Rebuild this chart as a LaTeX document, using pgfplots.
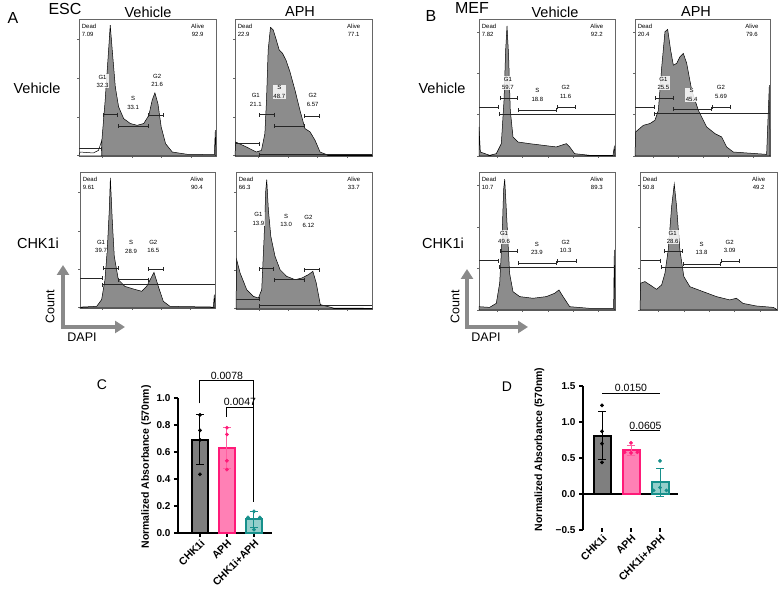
\documentclass[border=0pt]{standalone}
\usepackage{fontspec}
\setmainfont{Liberation Sans}
\usepackage{pgfplots}
\pgfplotsset{compat=1.18}
\usetikzlibrary{arrows.meta}
\definecolor{histgray}{HTML}{8C8C8C}
\definecolor{arrowgray}{HTML}{8A8A8A}
\definecolor{cGray}{HTML}{7F7F7F}
\definecolor{cPinkFill}{HTML}{FF80B5}
\definecolor{cPink}{HTML}{FF1A78}
\definecolor{cTealFill}{HTML}{94CFCB}
\definecolor{cTeal}{HTML}{16908B}

\pgfplotsset{
  hist/.style={scale only axis, xmin=0, xmax=100, ymin=0, ymax=100,
    axis line style={black!60, line width=0.5pt},
    tick style={black!60, line width=0.4pt}, tick align=outside, tick pos=left,
    major tick length=2pt, xticklabels={}, yticklabels={}, clip=false},
  hesc/.style={hist, xtick={16.7,38.7,60.3,81.6}, ytick={0.5,28.5,56.6,85}},
  hmef/.style={hist, xtick={13.2,31.9,50.7,69.1,87.5}, ytick={0,30.5,60.2,90.7}},
  histfill/.style={fill=histgray, draw=black, line width=0.5pt},
  barax/.style={scale only axis, axis lines*=left, clip=false,
    axis line style={line width=1.4pt},
    tick style={line width=1.2pt, black}, tick align=outside, major tick length=4pt,
    xtick={0,1,2}, xticklabels={CHK1i,APH,CHK1i+APH},
    x tick label style={font=\bfseries\fontsize{10.5}{11}\selectfont, rotate=45, anchor=north east, inner sep=1pt},
    y tick label style={font=\bfseries\fontsize{10}{11}\selectfont},
    ylabel style={font=\bfseries\fontsize{10.5}{11}\selectfont}},
}
\tikzset{
  gate/.style={black!85, line width=0.6pt, {Bar[width=4pt]}-{Bar[width=4pt]}},
  gateR/.style={black!85, line width=0.6pt, -{Bar[width=4pt]}},
  gateL/.style={black!85, line width=0.6pt, {Bar[width=4pt]}-},
  lab/.style={font=\fontsize{6}{8.5}\selectfont, align=center, inner sep=0.6pt},
  labw/.style={lab, fill=white, fill opacity=0.85, text opacity=1},
  big/.style={font=\fontsize{14.5}{16}\selectfont},
  bigarrow/.style={arrowgray, line width=4pt, -{Triangle[length=10pt,width=12pt]}},
}

\begin{document}
\begin{tikzpicture}
\useasboundingbox (0pt,0pt) rectangle (780pt,589pt);

% ---------------- ESC, Vehicle / Vehicle
\begin{axis}[hesc, at={(79pt,433pt)}, width=137pt, height=137pt]
\addplot[fill=white, draw=black, line width=0.5pt] coordinates {(0,0) (0.7,2.9) (10.5,2.2) (14.2,4.1) (16.7,11.5) (16.7,0)} \closedcycle;
\addplot[histfill] coordinates {(16.7,0) (16.7,11.5) (19.1,40.7) (21.6,77.3) (22.8,95.6) (24.5,74.4) (26.5,50.5) (28.9,35.9) (32.6,27.3) (37.5,23.7) (42.4,22.4) (47.3,23.7) (51.0,29.8) (53.4,40.7) (55.4,46.1) (57.6,38.3) (60.0,21.2) (63.2,9.0) (68.1,2.9) (79.2,1.2) (98.8,1.0) (99.5,18.8) (100,0)} \closedcycle;
\draw[gateR] (axis cs:0,5.4) -- (axis cs:16.7,5.4);
\draw[gate] (axis cs:17.4,30.2) -- (axis cs:28.4,30.2);
\draw[gate] (axis cs:28.4,22) -- (axis cs:50.5,22);
\draw[gate] (axis cs:50.5,29.8) -- (axis cs:61.5,29.8);
\node[labw] at (axis cs:17.2,54.6) {G1\\32.3};
\node[lab] at (axis cs:39.5,38.8) {S\\33.1};
\node[lab] at (axis cs:57.1,55.3) {G2\\21.6};
\node[lab, anchor=north west, align=left] at (axis cs:1.5,97) {Dead\\7.09};
\node[lab, anchor=north east] at (axis cs:92,97) {Alive\\92.9};
\end{axis}

% ---------------- ESC, APH / Vehicle
\begin{axis}[hesc, at={(235pt,433pt)}, width=137pt, height=137pt]
\addplot[histfill] coordinates {(0,0) (0.5,10.2) (8.3,6.6) (15.6,2.9) (19.3,4.1) (21.8,16.3) (23,40.7) (24.2,77.3) (25.9,93.9) (27.9,92) (29.8,85.9) (32.3,77.3) (34.7,74.9) (37.2,70) (40.1,61.5) (43.8,48) (47.4,33.4) (51.1,20) (54.8,17.6) (58.4,11.5) (62.1,2.9) (68.2,0.5) (100,0.5)} \closedcycle;
\draw[gateR] (axis cs:0,9) -- (axis cs:17.6,9);
\draw[gateL] (axis cs:17.6,1) -- (axis cs:100,1);
\draw[gate] (axis cs:17.6,30.2) -- (axis cs:28.6,30.2);
\draw[gate] (axis cs:28.6,22) -- (axis cs:50.6,22);
\draw[gate] (axis cs:50.6,29.3) -- (axis cs:61.6,29.3);
\node[lab] at (axis cs:15.2,40.9) {G1\\21.1};
\node[labw] at (axis cs:32.3,46.9) {S\\48.7};
\node[lab] at (axis cs:56.7,40.9) {G2\\6.57};
\node[lab, anchor=north west, align=left] at (axis cs:1.5,97) {Dead\\22.9};
\node[lab, anchor=north east] at (axis cs:92,97) {Alive\\77.1};
\end{axis}

% ---------------- ESC, Vehicle / CHK1i
\begin{axis}[hesc, at={(80pt,281pt)}, width=135pt, height=136pt]
\addplot[histfill] coordinates {(0,0) (1.2,0.7) (12.3,1.2) (16,6.1) (18.5,20.8) (20.2,42.9) (21.7,72.3) (22.5,95.6) (24,62.5) (25.4,38) (28.4,20.8) (33.3,15.9) (39.5,14) (45.7,12.3) (49.4,15.9) (54.8,26.2) (58,15.9) (61.7,4.9) (66.7,1.2) (98.8,0.7) (99.5,9.8) (100,0)} \closedcycle;
\draw[gateR] (axis cs:0,22) -- (axis cs:16.5,22);
\draw[gateL] (axis cs:16.5,17.2) -- (axis cs:100,17.2);
\draw[gate] (axis cs:17.3,29.2) -- (axis cs:28.4,29.2);
\draw[gate] (axis cs:28.4,20.8) -- (axis cs:50.6,20.8);
\draw[gate] (axis cs:50.6,28.7) -- (axis cs:61.7,28.7);
\node[labw] at (axis cs:15.6,45.4) {G1\\39.7};
\node[lab] at (axis cs:37.8,44.8) {S\\28.9};
\node[lab] at (axis cs:54.3,45.4) {G2\\16.5};
\node[lab, anchor=north west, align=left] at (axis cs:1.5,97) {Dead\\9.61};
\node[lab, anchor=north east] at (axis cs:92,97) {Alive\\90.4};
\end{axis}

% ---------------- ESC, APH / CHK1i
\begin{axis}[hesc, at={(236pt,280pt)}, width=136pt, height=137pt]
\addplot[histfill] coordinates {(0,0) (0.5,36) (3,26.3) (7.9,14.1) (12.8,9.2) (16.5,8) (18.9,14.1) (20.6,50.6) (21.9,87) (22.6,94.4) (23.8,72.5) (25.6,53) (28.7,38.4) (32.4,28.7) (37.3,23.8) (43.5,21.4) (48.4,22.6) (53.3,25.1) (56.5,27.5) (59,19) (62,3.2) (71.7,0.7) (100,0.5)} \closedcycle;
\draw[gateR] (axis cs:0,7.3) -- (axis cs:17.2,7.3);
\draw[gateL] (axis cs:17.2,2.4) -- (axis cs:100,2.4);
\draw[gate] (axis cs:17.2,29.4) -- (axis cs:28,29.4);
\draw[gate] (axis cs:28,21.4) -- (axis cs:50.1,21.4);
\draw[gate] (axis cs:50.1,28.7) -- (axis cs:61.4,28.7);
\node[labw] at (axis cs:16.5,65.9) {G1\\13.9};
\node[lab] at (axis cs:36.9,64.6) {S\\13.0};
\node[lab] at (axis cs:53.3,63.9) {G2\\6.12};
\node[lab, anchor=north west, align=left] at (axis cs:1.5,97) {Dead\\66.3};
\node[lab, anchor=north east] at (axis cs:92,97) {Alive\\33.7};
\end{axis}

% ---------------- MEF, Vehicle / Vehicle
\begin{axis}[hmef, at={(479pt,433pt)}, width=136pt, height=137pt]
\addplot[histfill] coordinates {(0,0) (0,21.2) (1,2.9) (7.8,0.5) (12.7,1.7) (16.4,9) (18.4,40.7) (19.6,77.3) (20.6,94.9) (21.8,72.4) (23,33.4) (25,13.9) (28.7,10.2) (37.3,9) (47.1,7.8) (56.9,6.6) (60.5,7.8) (64.2,9) (66.7,6.6) (70.3,1.7) (81.4,0.5) (98.5,0.5) (99.5,6.6) (100,0)} \closedcycle;
\draw[gateR] (axis cs:0,35.9) -- (axis cs:14.7,35.9);
\draw[gateL] (axis cs:14.7,30.5) -- (axis cs:100,30.5);
\draw[gate] (axis cs:15.2,42) -- (axis cs:28.7,42);
\draw[gate] (axis cs:28.7,33.4) -- (axis cs:57.4,33.4);
\draw[gate] (axis cs:57.4,35.4) -- (axis cs:71.1,35.4);
\node[labw] at (axis cs:21.3,53) {G1\\59.7};
\node[lab] at (axis cs:42.9,44.4) {S\\18.8};
\node[lab] at (axis cs:63.7,46.6) {G2\\11.6};
\node[lab, anchor=north west, align=left] at (axis cs:1.5,97) {Dead\\7.82};
\node[lab, anchor=north east] at (axis cs:92,97) {Alive\\92.2};
\end{axis}

% ---------------- MEF, APH / Vehicle
\begin{axis}[hmef, at={(635pt,433pt)}, width=135pt, height=137pt]
\addplot[histfill] coordinates {(0,0) (0.5,17.6) (6.2,22.4) (11.1,23.7) (14.8,26.1) (17.3,33.4) (19.8,65.1) (22.2,90.7) (24.2,92.4) (26.4,77.3) (28.4,66.3) (30.9,67.6) (33.3,72.4) (35.8,74.9) (38.3,67.6) (42,48) (46.9,33.4) (53.1,21.2) (59.3,16.3) (64.2,13.9) (67.9,6.6) (72.8,2.9) (90.1,1.7) (97.5,1.2) (99.5,51.7) (100,0)} \closedcycle;
\draw[gateR] (axis cs:0,35.9) -- (axis cs:14.3,35.9);
\draw[gateL] (axis cs:14.3,31) -- (axis cs:100,31);
\draw[gate] (axis cs:14.8,42.4) -- (axis cs:28.4,42.4);
\draw[gate] (axis cs:28.4,34.1) -- (axis cs:56.8,34.1);
\draw[gate] (axis cs:56.8,35.9) -- (axis cs:71.1,35.9);
\node[labw] at (axis cs:21,53) {G1\\25.5};
\node[labw] at (axis cs:42,44.4) {S\\45.4};
\node[lab] at (axis cs:63.7,46.6) {G2\\5.69};
\node[lab, anchor=north west, align=left] at (axis cs:1.5,97) {Dead\\20.4};
\node[lab, anchor=north east] at (axis cs:92,97) {Alive\\79.6};
\end{axis}

% ---------------- MEF, Vehicle / CHK1i
\begin{axis}[hmef, at={(479pt,279pt)}, width=136pt, height=138pt]
\addplot[histfill] coordinates {(0,0) (0,2.4) (7.8,1.9) (12.7,4.8) (15.2,19.4) (16.9,50.8) (18.1,87.2) (18.9,94.9) (20.6,63) (22.5,26.6) (25,13.3) (29.9,9.7) (39.7,8.5) (49.5,9.7) (55.6,12.1) (58.8,14.5) (61.8,9.7) (66.7,2.4) (81.4,1.2) (99,1.2) (99.5,43.6) (100,0)} \closedcycle;
\draw[gateR] (axis cs:0,35.8) -- (axis cs:14.7,35.8);
\draw[gateL] (axis cs:14.7,31) -- (axis cs:100,31);
\draw[gate] (axis cs:15.2,42.4) -- (axis cs:28.7,42.4);
\draw[gate] (axis cs:28.7,33.9) -- (axis cs:57.4,33.9);
\draw[gate] (axis cs:57.4,35.6) -- (axis cs:71.6,35.6);
\node[labw] at (axis cs:18.4,52.7) {G1\\49.6};
\node[lab] at (axis cs:42.6,44.5) {S\\23.9};
\node[lab] at (axis cs:63.7,46.2) {G2\\10.3};
\node[lab, anchor=north west, align=left] at (axis cs:1.5,97) {Dead\\10.7};
\node[lab, anchor=north east] at (axis cs:92,97) {Alive\\89.3};
\end{axis}

% ---------------- MEF, APH / CHK1i
\begin{axis}[hmef, at={(640pt,279pt)}, width=137pt, height=138pt]
\addplot[histfill] coordinates {(0,0) (0.5,19.4) (3.6,20.6) (7.3,18.2) (12.1,15) (15.8,18.2) (18.2,26.6) (20.6,43.6) (23.1,75.1) (25,91.3) (26.7,75.1) (29.1,43.6) (32,24.2) (36.4,16.9) (46.1,13.3) (55.8,9.7) (65.5,7.3) (70.4,8.5) (75.2,4.8) (85,2.9) (97.1,1.9) (99,1) (100,0)} \closedcycle;
\draw[gateR] (axis cs:0.5,35.8) -- (axis cs:15.3,35.8);
\draw[gateL] (axis cs:15.3,31) -- (axis cs:100,31);
\draw[gate] (axis cs:17.7,42.4) -- (axis cs:31.1,42.4);
\draw[gate] (axis cs:31.1,33.4) -- (axis cs:59,33.4);
\draw[gate] (axis cs:59,35.6) -- (axis cs:72.8,35.6);
\node[labw] at (axis cs:23.8,52.7) {G1\\28.6};
\node[lab] at (axis cs:44.9,44.5) {S\\13.8};
\node[lab] at (axis cs:65.5,46.2) {G2\\3.09};
\node[lab, anchor=north west, align=left] at (axis cs:1.5,97) {Dead\\50.8};
\node[lab, anchor=north east] at (axis cs:92,97) {Alive\\49.2};
\end{axis}

% ---------------- C: ESC viability
\begin{axis}[barax, at={(178pt,56pt)}, width=94pt, height=135pt,
  xmin=-0.815, xmax=2.67, ymin=0, ymax=1.0,
  ytick={0,0.2,0.4,0.6,0.8,1.0}, yticklabels={0.0,0.2,0.4,0.6,0.8,1.0},
  ylabel={Normalized Absorbance (570nm)}, ylabel style={at={(axis description cs:-0.25,0.49)}}]
\addplot[ybar, bar width=16pt, bar shift=0pt, fill=cGray, draw=black, line width=2pt,
  error bars/.cd, y dir=both, y explicit,
  error bar style={line width=1pt, black},
  error mark options={rotate=90, mark size=4pt, line width=1pt, black}]
  coordinates {(0,0.69) +- (0,0.185)};
\addplot[ybar, bar width=16pt, bar shift=0pt, fill=cPinkFill, draw=cPink, line width=2pt,
  error bars/.cd, y dir=both, y explicit,
  error bar style={line width=1pt, cPink!70},
  error mark options={rotate=90, mark size=4pt, line width=1pt, cPink!70}]
  coordinates {(1,0.63) +- (0,0.15)};
\addplot[ybar, bar width=16pt, bar shift=0pt, fill=cTealFill, draw=cTeal, line width=2pt,
  error bars/.cd, y dir=both, y explicit,
  error bar style={line width=1pt, cTeal},
  error mark options={rotate=90, mark size=4pt, line width=1pt, cTeal}]
  coordinates {(2,0.10) +- (0,0.058)};
\addplot[only marks, mark=*, mark size=1.7pt, black] coordinates {(0,0.875) (0,0.76) (0,0.69) (0,0.435)};
\addplot[only marks, mark=*, mark size=1.7pt, cPink] coordinates {(1,0.78) (1,0.73) (1,0.535) (1,0.47)};
\addplot[only marks, mark=*, mark size=1.7pt, cTeal] coordinates {(2,0.16) (1.78,0.115) (2.22,0.115) (2,0.025)};
\draw[line width=1pt] (axis cs:0,0.96) -- (axis cs:0,1.126) -- (axis cs:2,1.126) -- (axis cs:2,0.23);
\draw[line width=1pt] (axis cs:1,0.86) -- (axis cs:1,0.93) -- (axis cs:2,0.93) -- (axis cs:2,0.23);
\node[font=\fontsize{10.5}{11}\selectfont, anchor=south, inner sep=1.5pt] at (axis cs:1,1.126) {0.0078};
\node[font=\fontsize{10.5}{11}\selectfont, anchor=south, inner sep=1.5pt] at (axis cs:1.48,0.93) {0.0047};
\end{axis}

% ---------------- D: MEF viability
\begin{axis}[barax, at={(583pt,59pt)}, width=95pt, height=144pt,
  xmin=-0.655, xmax=2.62, ymin=-0.5, ymax=1.5,
  axis x line=bottom, x axis line style={draw=none},
  ytick={-0.5,0,0.5,1.0,1.5}, yticklabels={−0.5,0.0,0.5,1.0,1.5},
  ylabel={Normalized Absorbance (570nm)}, ylabel style={at={(axis description cs:-0.37,0.56)}}]
\draw[line width=1.4pt] (axis cs:-0.655,0) -- (axis cs:2.62,0);
\addplot[ybar, bar width=17pt, bar shift=0pt, fill=cGray, draw=black, line width=2pt,
  error bars/.cd, y dir=both, y explicit,
  error bar style={line width=1pt, black},
  error mark options={rotate=90, mark size=4pt, line width=1pt, black}]
  coordinates {(0,0.81) +- (0,0.33)};
\addplot[ybar, bar width=17pt, bar shift=0pt, fill=cPinkFill, draw=cPink, line width=2pt,
  error bars/.cd, y dir=both, y explicit,
  error bar style={line width=1pt, cPink!70},
  error mark options={rotate=90, mark size=4pt, line width=1pt, cPink!70}]
  coordinates {(1,0.61) +- (0,0.07)};
\addplot[ybar, bar width=17pt, bar shift=0pt, fill=cTealFill, draw=cTeal, line width=2pt,
  error bars/.cd, y dir=both, y explicit,
  error bar style={line width=1pt, cTeal},
  error mark options={rotate=90, mark size=4pt, line width=1pt, cTeal}]
  coordinates {(2,0.16) +- (0,0.20)};
\addplot[only marks, mark=*, mark size=1.7pt, black] coordinates {(0,1.23) (0,0.87) (0,0.70) (0,0.44)};
\addplot[only marks, mark=*, mark size=1.7pt, cPink] coordinates {(1,0.71) (0.78,0.58) (1,0.57) (1.22,0.58)};
\addplot[only marks, mark=*, mark size=1.7pt, cTeal] coordinates {(2,0.46) (2,0.09) (1.78,0.05) (2.22,0.05)};
\draw[line width=1pt] (axis cs:0,1.40) -- (axis cs:2,1.40);
\draw[line width=1pt] (axis cs:0.97,0.875) -- (axis cs:2,0.875);
\node[font=\fontsize{10.5}{11}\selectfont, anchor=south, inner sep=1.5pt] at (axis cs:1,1.40) {0.0150};
\node[font=\fontsize{10.5}{11}\selectfont, anchor=south, inner sep=1.5pt] at (axis cs:1.5,0.875) {0.0605};
\end{axis}

% ---------------- headings, row labels, arrows
\begin{scope}[x=1pt, y=1pt]
\node[font=\fontsize{16}{18}\selectfont] at (13,571) {A};
\node[font=\fontsize{16}{18}\selectfont] at (65,580) {ESC};
\node[big] at (148,577) {Vehicle};
\node[big] at (300,577) {APH};
\node[font=\fontsize{16}{18}\selectfont] at (431,573) {B};
\node[font=\fontsize{16}{18}\selectfont] at (472,581) {MEF};
\node[big] at (555,577) {Vehicle};
\node[big] at (696,577) {APH};
\node[big] at (37,501) {Vehicle};
\node[big] at (38,346) {CHK1i};
\node[big] at (442,501) {Vehicle};
\node[big] at (443,346) {CHK1i};
\draw[bigarrow] (63,260) -- (63,324);
\draw[bigarrow] (61,262) -- (125,262);
\node[font=\fontsize{12.5}{14}\selectfont, rotate=90] at (50,282) {Count};
\node[font=\fontsize{12.5}{14}\selectfont] at (82,252) {DAPI};
\draw[bigarrow] (467,260) -- (467,320);
\draw[bigarrow] (465,262) -- (528,262);
\node[font=\fontsize{12.5}{14}\selectfont, rotate=90] at (455,282) {Count};
\node[font=\fontsize{12.5}{14}\selectfont] at (486,252) {DAPI};
\node[font=\fontsize{14}{16}\selectfont] at (102,204) {C};
\node[font=\fontsize{14}{16}\selectfont] at (507,202) {D};
\end{scope}
\end{tikzpicture}
\end{document}
